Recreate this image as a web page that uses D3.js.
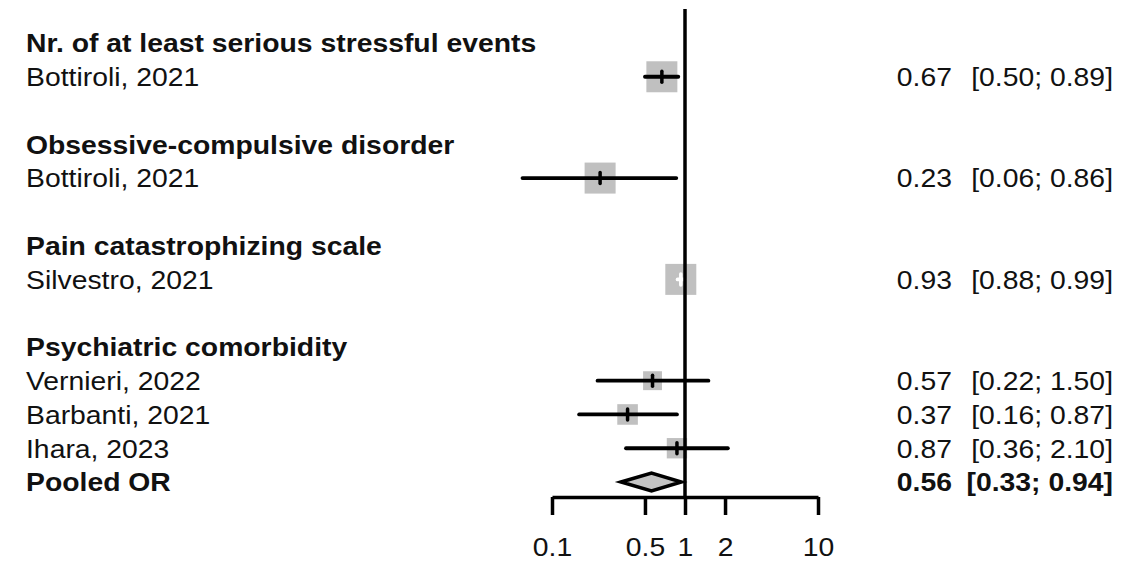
<!DOCTYPE html>
<html>
<head>
<meta charset="utf-8">
<script src="https://cdn.jsdelivr.net/npm/d3@7"></script>
<style>
  html, body { margin: 0; padding: 0; background: #fff; }
  svg text { font-family: "Liberation Sans", Arial, Helvetica, sans-serif; fill: #111; }
</style>
</head>
<body>
<svg id="chart" width="1143" height="562"></svg>
<script>
// Subgroups and the studies in each one
const groups = [
  "Nr. of at least serious stressful events",
  "Obsessive-compulsive disorder",
  "Pain catastrophizing scale",
  "Psychiatric comorbidity"
];
const studies = ["Bottiroli, 2021", "Bottiroli, 2021", "Silvestro, 2021", "Vernieri, 2022", "Barbanti, 2021", "Ihara, 2023"];
const studyGroup = [0, 1, 2, 3, 3, 3];
const oddsRatio = [0.67, 0.23, 0.93, 0.57, 0.37, 0.87];
const lowerCI = [0.50, 0.06, 0.88, 0.22, 0.16, 0.36];
const upperCI = [0.89, 0.86, 0.99, 1.50, 0.87, 2.10];
const weights = [100, 100, 100, 29, 36, 35];

// Pooled estimate for the psychiatric comorbidity subgroup
const pooledLabel = "Pooled OR";
const pooledOR = 0.56;
const pooledLower = 0.33;
const pooledUpper = 0.94;

const tickValues = [0.1, 0.5, 1, 2, 10];

const fmt = d3.format(".2f");
const stretch = 1.09;
const fontSize = 26;

const svg = d3.select("#chart");

// Build the row layout: header, its studies, a blank spacer; pooled row last
const rows = [];
groups.forEach((g, gi) => {
  rows.push({ type: "header", label: g });
  studies.forEach((s, i) => {
    if (studyGroup[i] === gi) rows.push({ type: "study", idx: i });
  });
  if (gi < groups.length - 1) rows.push({ type: "blank" });
});
rows.push({ type: "pooled" });
rows.forEach((r, i) => r.row = i);

const x = d3.scaleLog().domain([0.1, 10]).range([552, 818]);
const y = d3.scaleLinear().domain([0, rows.length - 1]).range([43, 482]);
const boxSize = d3.scalePow().exponent(0.4).domain([0, 100]).range([0, 31]);

const axisY = 497;

function addText(sel, tx, ty, str, anchor, bold) {
  sel.append("text")
    .attr("transform", `translate(${tx},${ty}) scale(${stretch},1)`)
    .attr("text-anchor", anchor)
    .attr("font-size", fontSize)
    .attr("font-weight", bold ? "bold" : "normal")
    .text(str);
}

const textLayer = svg.append("g");
const baseOff = 9.3;

rows.forEach(r => {
  const ty = y(r.row) + baseOff;
  if (r.type === "header") {
    addText(textLayer, 26, ty, r.label, "start", true);
  } else if (r.type === "study") {
    const i = r.idx;
    addText(textLayer, 26, ty, studies[i], "start", false);
    addText(textLayer, 952, ty, fmt(oddsRatio[i]), "end", false);
    addText(textLayer, 1113, ty, `[${fmt(lowerCI[i])}; ${fmt(upperCI[i])}]`, "end", false);
  } else if (r.type === "pooled") {
    addText(textLayer, 26, ty, pooledLabel, "start", true);
    addText(textLayer, 952, ty, fmt(pooledOR), "end", true);
    addText(textLayer, 1113, ty, `[${fmt(pooledLower)}; ${fmt(pooledUpper)}]`, "end", true);
  }
});

// Study squares, confidence intervals and point markers
const marks = svg.append("g");
rows.filter(r => r.type === "study").forEach(r => {
  const i = r.idx;
  const cy = y(r.row);
  const cx = x(oddsRatio[i]);
  const s = boxSize(weights[i]);
  marks.append("rect")
    .attr("x", cx - s / 2).attr("y", cy - s / 2)
    .attr("width", s).attr("height", s)
    .attr("fill", "#c0c0c0");
  const inside = x(lowerCI[i]) >= cx - s / 2 && x(upperCI[i]) <= cx + s / 2;
  const col = inside ? "#ffffff" : "#000000";
  marks.append("line")
    .attr("x1", x(lowerCI[i])).attr("x2", x(upperCI[i]))
    .attr("y1", cy).attr("y2", cy)
    .attr("stroke", col).attr("stroke-width", 3.8)
    .attr("stroke-linecap", "round");
  marks.append("line")
    .attr("x1", cx).attr("x2", cx)
    .attr("y1", cy - 5.5).attr("y2", cy + 5.5)
    .attr("stroke", col).attr("stroke-width", 3.5)
    .attr("stroke-linecap", "round");
});

// Pooled diamond
const pr = rows.find(r => r.type === "pooled");
const py = y(pr.row);
const dh = 9;
marks.append("path")
  .attr("d", `M${x(pooledLower)},${py} L${x(pooledOR)},${py - dh} L${x(pooledUpper)},${py} L${x(pooledOR)},${py + dh} Z`)
  .attr("fill", "#c4c4c4")
  .attr("stroke", "#000")
  .attr("stroke-width", 3.5)
  .attr("stroke-linejoin", "miter");

// Line of no effect
svg.append("line")
  .attr("x1", x(1)).attr("x2", x(1))
  .attr("y1", 9).attr("y2", axisY)
  .attr("stroke", "#000").attr("stroke-width", 3.5);

// Log-scale x axis
const axis = d3.axisBottom(x)
  .tickValues(tickValues)
  .tickFormat(d => String(d))
  .tickSizeInner(18)
  .tickSizeOuter(0)
  .tickPadding(23);

const gAxis = svg.append("g")
  .attr("transform", `translate(0,${axisY})`)
  .call(axis);
gAxis.select(".domain").attr("stroke", "#000").attr("stroke-width", 3.5);
gAxis.selectAll(".tick line").attr("stroke", "#000").attr("stroke-width", 3.5);
gAxis.selectAll(".tick text")
  .attr("font-size", fontSize)
  .attr("font-family", "Liberation Sans, Arial, sans-serif")
  .attr("fill", "#111")
  .attr("transform", `scale(${stretch},1)`);
</script>
</body>
</html>
